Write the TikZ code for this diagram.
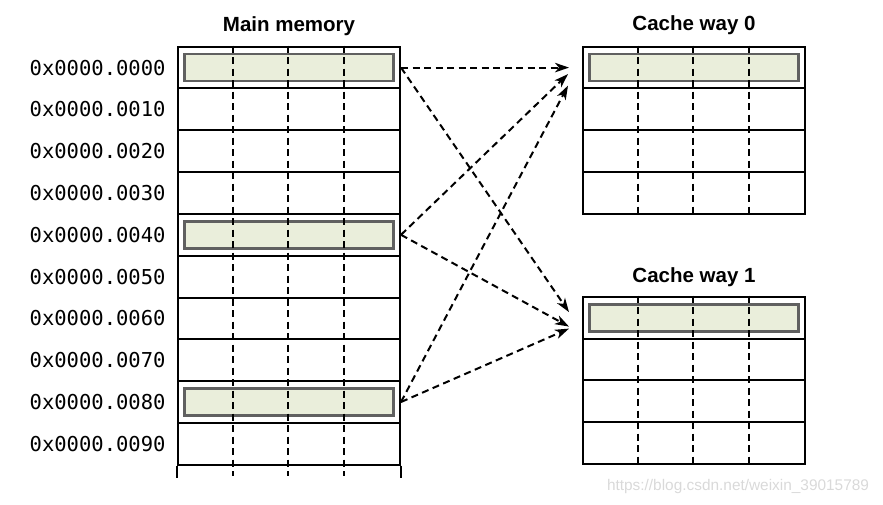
\documentclass[tikz,border=0pt]{standalone}
\usepackage{fontspec}
\setmainfont{Liberation Sans}
\newfontfamily\addrfont{DejaVu Sans Mono}
\usetikzlibrary{arrows.meta}
\definecolor{slotfill}{HTML}{EAEEDB}
\definecolor{slotdraw}{HTML}{606060}

\begin{document}
\begin{tikzpicture}[x=1pt, y=-1pt, >={Stealth[length=14pt,width=9.5pt,inset=4pt]}]

    \useasboundingbox (0,0) rectangle (883,505);

    \tikzset{%
    every row/.style={
        rectangle,
        draw,
        line width=2pt,
        minimum width=222pt,
        minimum height=41.8pt,
        inner sep=0pt
        },
    slot/.style={
        draw=slotdraw,
        fill=slotfill,
        line width=2.8pt,
        minimum width=209pt,
        minimum height=27pt,
        inner sep=0pt
        },
    word line/.style={
        dash pattern=on 7pt off 4.5pt,
        line width=2pt
        },
    map line/.style={
        ->,
        dash pattern=on 7pt off 4.5pt,
        line width=2pt
        },
    title/.style={font=\bfseries\fontsize{20.5}{24}\selectfont, anchor=base},
    addr/.style={font=\addrfont\fontsize{20.5}{24}\selectfont, anchor=east},
    }

    % Main memory rows
    \foreach \m in {0,...,9}
    \node [every row] (mem-\m) at (289,67.6+\m*41.8) {};

    % Cache way rows
    \foreach \m in {0,...,3}
    \node [every row] (way0-\m) at (694,67.6+\m*41.8) {};
    \foreach \m in {0,...,3}
    \node [every row] (way1-\m) at (694,317.6+\m*41.8) {};

    % Open end of main memory
    \draw [line width=2pt] (mem-9.south west) -- ++(0,12.3);
    \draw [line width=2pt] (mem-9.south east) -- ++(0,12.3);

    % Highlighted lines
    \foreach \m in {0,4,8}
    \node [slot] (slot-\m) at (mem-\m) {};
    \node [slot] (slot-w0) at (way0-0) {};
    \node [slot] (slot-w1) at (way1-0) {};

    % Word boundaries
    \foreach \k in {1,2,3} {
    \draw [word line] (mem-0.north west) ++(55.5*\k,0) -- ++(0,430.3);
    \draw [word line] (way0-0.north west) ++(55.6*\k,0) -- ++(0,167.2);
    \draw [word line] (way1-0.north west) ++(55.6*\k,0) -- ++(0,167.2);
    }

    % Address labels
    \foreach \m in {0,...,9}
    \node [addr] (addr-\m) at ([xshift=-8pt]mem-\m.west) {0x0000.00\m0};

    % Titles
    \node [title] (mem-title) at ([yshift=14.4pt]mem-0.north) {Main memory};
    \node [title] (way0-title) at ([yshift=15.4pt]way0-0.north) {Cache way 0};
    \node [title] (way1-title) at ([yshift=13.4pt]way1-0.north) {Cache way 1};

    % Mapping to cache way 0
    \draw [map line] (mem-0.east) -- ([xshift=-13pt]way0-0.west);
    \draw [map line] (mem-4.east) -- ([xshift=-14pt,yshift=-6.5pt]way0-0.west);
    \draw [map line] (mem-8.east) -- ([xshift=-14pt,yshift=-18pt]way0-0.west);

    % Mapping to cache way 1
    \draw [map line] (mem-0.east) -- ([xshift=-13pt,yshift=5.5pt]way1-0.west);
    \draw [map line] (mem-4.east) -- ([xshift=-13pt,yshift=-9pt]way1-0.west);
    \draw [map line] (mem-8.east) -- ([xshift=-13pt,yshift=-11pt]way1-0.west);

    \node [font=\fontsize{15.4}{18}\selectfont, text=gray!30] (mark) at (738,487) {https://blog.csdn.net/weixin\_39015789};

\end{tikzpicture}
\end{document}
